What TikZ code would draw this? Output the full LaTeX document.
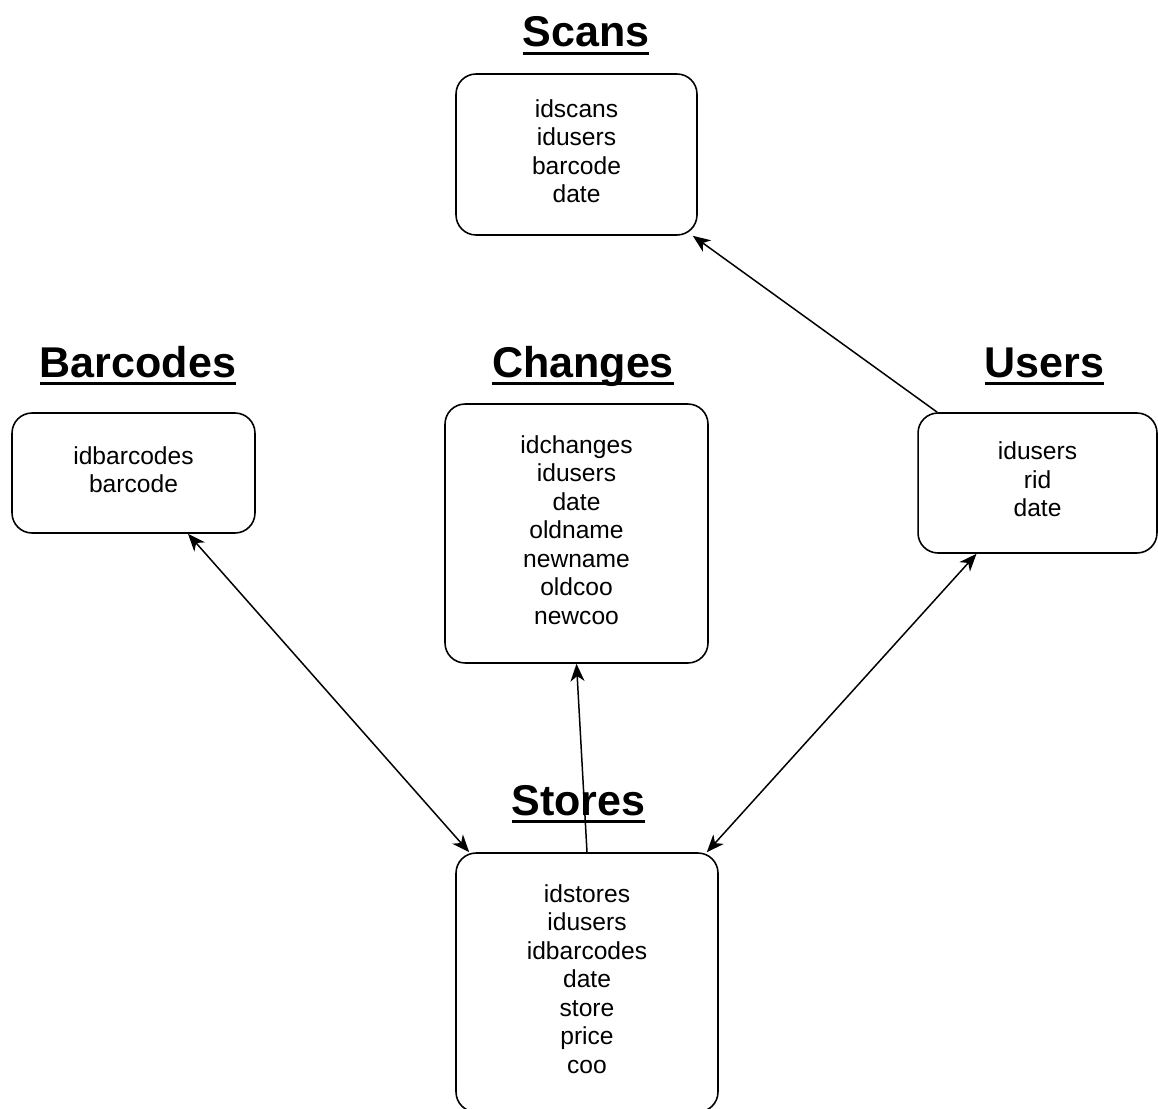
\documentclass[tikz,border=0pt]{standalone}
\usepackage{fontspec}
\setmainfont{Liberation Sans}
\usetikzlibrary{arrows.meta, positioning}
\newcommand{\ulheading}[1]{\leavevmode\setbox0\hbox{#1}\rlap{\rule[-4.3pt]{\wd0}{1.7pt}}\box0}

\begin{document}
\begin{tikzpicture}[x=0.02cm, y=-0.02cm,
		table/.style={draw, line width=0.9pt, rounded corners=0.4cm, align=center,
			font=\fontsize{14pt}{16.2pt}\selectfont, inner sep=0pt,
			execute at end node={\rule[-4pt]{0pt}{0pt}}},
		heading/.style={anchor=base, inner sep=0pt, font=\fontsize{24.5pt}{28pt}\selectfont\bfseries},
		link/.style={line width=0.85pt, -{Stealth[length=10pt, width=8pt, inset=3pt]}},
		both/.style={link, {Stealth[length=10pt, width=8pt, inset=3pt]}-{Stealth[length=10pt, width=8pt, inset=3pt]}}]
		\useasboundingbox (0,0) rectangle (1158,1108);

		% tables
		\node [table, minimum width=4.82cm, minimum height=3.22cm] (scans) at (576.5,154.5)
			{idscans\\idusers\\barcode\\date};
		\node [table, minimum width=4.86cm, minimum height=2.4cm] (barcodes) at (133.5,473)
			{idbarcodes\\barcode};
		\node [table, minimum width=5.26cm, minimum height=5.18cm] (changes) at (576.5,533.5)
			{idchanges\\idusers\\date\\oldname\\newname\\oldcoo\\newcoo};
		\node [table, minimum width=4.78cm, minimum height=2.8cm] (users) at (1037.5,483)
			{idusers\\rid\\date};
		\node [table, minimum width=5.24cm, minimum height=5.18cm] (stores) at (587,982.5)
			{idstores\\idusers\\idbarcodes\\date\\store\\price\\coo};

		% headings
		\foreach \n/\x/\y in {Scans/586/47, Barcodes/138/377, Changes/583/377, Users/1044.5/377, Stores/578.5/815}{
			\node [heading] (t\n) at (\x,\y) {\ulheading{\n}};
		}

		% links
		\draw [link] ([xshift=0.4cm]users.north west) -- ([xshift=-0.1cm]scans.south east);
		\draw [both] ([xshift=1.09cm]barcodes.south) -- ([xshift=0.28cm]stores.north west);
		\draw [both] ([xshift=-1.22cm]users.south) -- ([xshift=-0.24cm]stores.north east);
		\draw [link] (stores.north) -- (changes.south);

	\end{tikzpicture}
\end{document}
